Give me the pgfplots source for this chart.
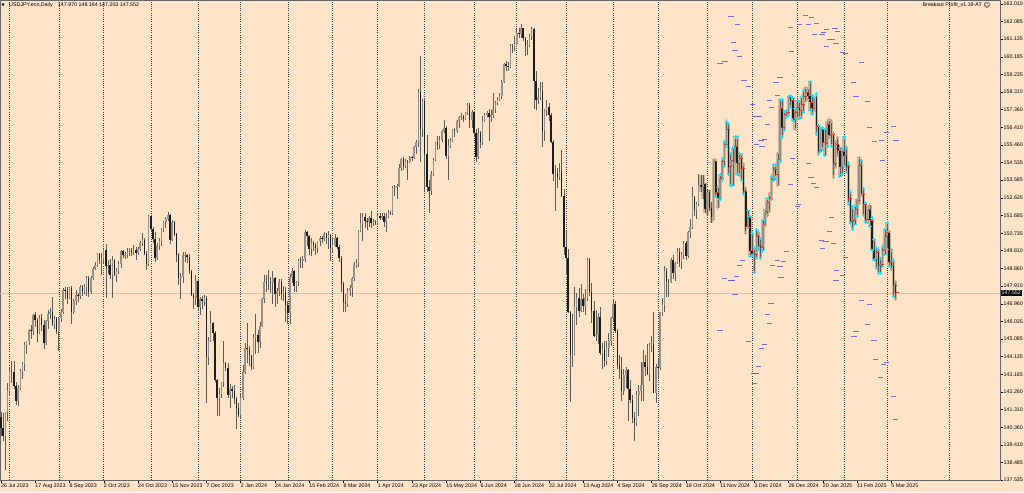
\documentclass[border=0pt]{standalone}
\usepackage{fontspec}
\setmainfont{Liberation Sans}
\newfontfamily\symfont{DejaVu Sans}
\usepackage{pgfplots}
\usepackage{pgfplotstable}
\pgfplotsset{compat=1.18}

\definecolor{bgc}{RGB}{253,228,200}
\definecolor{wickc}{RGB}{95,92,85}
\definecolor{bullc}{RGB}{150,145,136}
\definecolor{bearc}{RGB}{28,28,28}
\definecolor{shadec}{RGB}{185,170,146}
\definecolor{gridc}{RGB}{70,70,70}
\definecolor{dashc}{RGB}{95,90,200}
\definecolor{starc}{RGB}{45,215,235}
\definecolor{redc}{RGB}{200,60,50}

% USDJPY daily: bar index, open, high, low, close
\pgfplotstableread{
i o h l c
0 140.90 141.20 139.90 140.30
1 140.30 141.10 139.60 139.90
2 139.90 141.20 138.05 141.15
3 141.15 142.70 140.70 142.30
4 142.30 143.55 142.05 143.35
5 143.35 143.90 142.70 143.30
6 143.30 143.90 142.40 142.55
7 142.55 142.80 141.55 141.75
8 141.75 142.60 141.50 142.45
9 142.45 143.45 142.35 143.35
10 143.35 143.85 142.95 143.75
11 143.75 144.90 143.35 144.75
12 144.75 145.00 144.30 144.95
13 144.95 145.60 144.75 145.55
14 145.55 145.85 145.10 145.50
15 145.50 146.40 145.30 146.35
16 146.35 146.55 145.70 146.10
17 146.10 146.20 144.90 145.40
18 145.40 146.35 145.35 146.20
19 146.20 146.40 145.50 145.85
20 145.85 146.10 144.55 144.85
21 144.85 146.10 144.75 146.05
22 146.05 146.65 145.60 146.40
23 146.40 146.75 146.15 146.50
24 146.50 147.35 145.80 145.90
25 145.90 146.30 145.60 146.15
26 146.15 146.25 145.35 145.50
27 145.50 146.25 144.45 146.20
28 146.20 146.70 146.00 146.50
29 146.50 147.80 146.40 147.70
30 147.70 147.85 147.20 147.65
31 147.65 147.85 146.95 147.30
32 147.30 147.85 147.20 147.80
33 147.80 147.90 145.90 146.55
34 146.55 147.20 146.40 147.10
35 147.10 147.70 146.90 147.45
36 147.45 147.55 147.05 147.40
37 147.40 147.95 147.20 147.85
38 147.85 147.95 147.40 147.60
39 147.60 148.00 147.50 147.85
40 147.85 148.45 147.40 148.35
41 148.35 148.45 147.35 147.60
42 147.60 148.45 147.50 148.35
43 148.35 148.95 148.25 148.85
44 148.85 149.20 148.75 149.05
45 149.05 149.70 148.95 149.65
46 149.65 149.70 149.10 149.30
47 149.30 149.70 148.50 149.35
48 149.35 149.90 149.15 149.85
49 149.85 150.15 147.30 149.00
50 149.00 149.30 148.55 149.05
51 149.05 149.35 148.30 148.50
52 148.50 149.50 147.30 149.30
53 149.30 149.35 148.45 148.50
54 148.50 148.90 148.15 148.70
55 148.70 149.25 148.55 149.10
56 149.10 149.85 148.90 149.80
57 149.80 149.85 149.40 149.55
58 149.55 149.75 149.35 149.60
59 149.60 149.95 149.40 149.80
60 149.80 149.95 149.50 149.85
61 149.85 149.95 149.50 149.75
62 149.75 150.10 149.60 149.85
63 149.85 150.00 149.30 149.70
64 149.70 150.00 149.60 149.90
65 149.90 150.35 149.80 150.20
66 150.20 150.75 150.05 150.40
67 150.40 150.50 149.60 149.65
68 149.65 149.80 148.80 149.10
69 149.10 151.70 149.00 151.65
70 151.65 151.70 150.80 150.95
71 150.95 151.10 150.20 150.45
72 150.45 150.80 149.20 149.40
73 149.40 150.20 149.30 150.05
74 150.05 150.50 149.85 150.35
75 150.35 151.00 150.05 150.95
76 150.95 151.40 150.80 151.35
77 151.35 151.60 151.00 151.50
78 151.50 151.90 151.40 151.70
79 151.70 151.75 150.15 150.40
80 150.40 151.45 150.30 151.35
81 151.35 151.40 150.60 150.70
82 150.70 150.75 149.20 149.60
83 149.60 149.70 147.95 148.35
84 148.35 148.60 147.20 148.40
85 148.40 149.75 148.10 149.55
86 149.55 149.75 149.20 149.60
87 149.60 149.65 149.15 149.45
88 149.45 149.65 148.55 148.70
89 148.70 148.80 147.40 147.45
90 147.45 147.55 146.70 147.25
91 147.25 148.50 146.90 148.20
92 148.20 148.30 146.65 146.80
93 146.80 147.35 146.35 147.20
94 147.20 147.40 146.70 147.10
95 147.10 147.45 146.85 147.30
96 147.30 147.40 141.65 144.10
97 144.10 145.20 143.70 144.95
98 144.95 146.60 144.90 145.95
99 145.95 146.00 145.00 145.40
100 145.40 145.50 142.80 142.90
101 142.90 142.95 140.95 141.90
102 141.90 142.45 140.95 142.15
103 142.15 142.80 141.90 142.80
104 142.80 144.95 142.50 143.80
105 143.80 143.85 143.35 143.55
106 143.55 143.80 141.95 142.10
107 142.10 142.65 141.40 142.40
108 142.40 142.55 141.95 142.30
109 142.30 142.60 141.60 141.85
110 141.85 142.00 140.25 141.40
111 141.40 141.65 140.90 141.00
112 141.00 142.20 140.80 141.95
113 141.95 143.70 141.80 143.30
114 143.30 144.85 143.20 144.60
115 144.60 145.95 143.80 144.55
116 144.55 144.70 143.65 144.20
117 144.20 144.25 143.40 143.60
118 143.60 145.35 143.50 145.15
119 145.15 146.40 144.30 145.30
120 145.30 145.55 144.35 144.90
121 144.90 146.00 144.60 145.80
122 145.80 147.30 145.70 147.20
123 147.20 148.50 147.00 148.15
124 148.15 148.50 147.60 148.10
125 148.10 148.80 147.70 148.15
126 148.15 148.40 147.55 148.10
127 148.10 148.70 146.95 148.35
128 148.35 148.40 146.80 147.50
129 147.50 147.80 146.95 147.65
130 147.65 148.30 147.40 148.15
131 148.15 148.30 147.15 147.50
132 147.50 147.90 147.10 147.60
133 147.60 147.85 146.00 146.90
134 146.90 147.10 145.90 146.45
135 146.45 148.55 145.90 148.40
136 148.40 148.90 148.10 148.70
137 148.70 148.80 147.60 147.90
138 147.90 148.20 147.60 148.15
139 148.15 149.35 147.90 149.30
140 149.30 149.45 148.90 149.25
141 149.25 149.50 148.90 149.35
142 149.35 150.90 149.20 150.80
143 150.80 150.85 150.05 150.60
144 150.60 150.65 149.55 149.90
145 149.90 150.50 149.50 150.20
146 150.20 150.30 149.80 150.10
147 150.10 150.20 149.60 149.95
148 149.95 150.30 149.70 150.30
149 150.30 150.60 150.05 150.50
150 150.50 150.60 150.20 150.45
151 150.45 150.80 150.30 150.70
152 150.70 150.75 150.15 150.50
153 150.50 150.85 149.90 150.65
154 150.65 150.70 149.25 149.95
155 149.95 150.50 149.75 150.10
156 150.10 150.70 150.00 150.50
157 150.50 150.55 149.90 150.00
158 150.00 150.10 149.20 149.40
159 149.40 149.50 147.60 148.00
160 148.00 148.15 146.50 147.05
161 147.05 147.50 146.50 146.95
162 146.95 147.80 146.80 147.65
163 147.65 147.95 147.40 147.80
164 147.80 148.40 147.35 148.35
165 148.35 149.20 148.20 149.05
166 149.05 149.35 148.90 149.15
167 149.15 150.90 148.95 150.85
168 150.85 151.80 150.80 151.30
169 151.30 151.85 150.30 151.60
170 151.60 151.85 151.00 151.40
171 151.40 151.55 150.90 151.35
172 151.35 151.65 151.10 151.55
173 151.55 151.95 151.00 151.30
174 151.30 151.50 151.15 151.35
175 151.35 151.45 151.20 151.30
176 151.30 151.80 151.25 151.65
177 151.65 151.80 151.45 151.55
178 151.55 151.80 151.45 151.65
179 151.65 151.80 151.10 151.35
180 151.35 151.85 150.80 151.60
181 151.60 152.00 151.55 151.85
182 151.85 151.95 151.70 151.80
183 151.80 153.25 151.70 153.15
184 153.15 153.30 152.75 153.20
185 153.20 153.40 152.60 153.25
186 153.25 154.45 153.20 154.25
187 154.25 154.75 154.05 154.70
188 154.70 154.80 154.15 154.35
189 154.35 154.70 154.25 154.60
190 154.60 154.65 153.60 154.55
191 154.55 154.85 154.50 154.80
192 154.80 154.90 154.60 154.75
193 154.75 155.40 154.70 155.35
194 155.35 155.75 155.00 155.60
195 155.60 158.45 155.35 158.30
196 158.30 160.20 154.55 156.30
197 156.30 157.95 155.90 157.80
198 157.80 158.00 153.00 155.00
199 155.00 156.00 152.95 153.20
200 153.20 153.60 151.85 153.00
201 153.00 154.05 152.80 153.90
202 153.90 154.75 153.80 154.65
203 154.65 155.65 154.60 155.55
204 155.55 155.95 155.20 155.45
205 155.45 155.95 155.25 155.75
206 155.75 156.25 155.65 156.20
207 156.20 156.80 156.10 156.40
208 156.40 156.50 154.70 154.85
209 154.85 155.80 153.60 155.40
210 155.40 155.85 155.30 155.70
211 155.70 156.30 155.60 156.25
212 156.25 156.40 155.90 156.20
213 156.20 156.80 156.10 156.75
214 156.75 157.00 156.40 156.95
215 156.95 157.20 156.80 157.00
216 157.00 157.05 156.70 156.85
217 156.85 157.25 156.80 157.15
218 157.15 157.70 157.05 157.60
219 157.60 157.70 156.40 156.80
220 156.80 157.35 156.40 157.25
221 157.25 157.30 155.90 156.10
222 156.10 156.30 154.55 154.80
223 154.80 156.35 154.70 156.10
224 156.10 156.20 155.30 155.60
225 155.60 157.00 155.45 156.75
226 156.75 157.20 156.70 157.05
227 157.05 157.30 156.95 157.20
228 157.20 157.40 155.70 156.95
229 156.95 157.35 156.70 157.05
230 157.05 158.25 156.90 157.40
231 157.40 157.80 157.15 157.70
232 157.70 158.05 157.60 157.85
233 157.85 158.25 157.80 158.10
234 158.10 158.95 157.90 158.85
235 158.85 159.85 158.80 159.80
236 159.80 159.95 159.40 159.70
237 159.70 159.90 159.45 159.65
238 159.65 160.85 159.60 160.75
239 160.75 160.85 160.40 160.70
240 160.70 161.30 160.50 160.85
241 160.85 161.70 160.80 161.45
242 161.45 161.75 161.20 161.40
243 161.40 161.95 161.20 161.70
244 161.70 161.75 161.05 161.20
245 161.20 161.25 160.20 160.75
246 160.75 161.10 160.30 160.80
247 160.80 161.40 160.70 161.30
248 161.30 161.80 161.10 161.65
249 161.65 161.75 157.40 158.90
250 158.90 159.45 157.35 157.85
251 157.85 158.50 157.65 158.05
252 158.05 158.85 157.85 158.35
253 158.35 158.85 155.35 156.20
254 156.20 157.40 155.70 157.35
255 157.35 157.85 157.00 157.50
256 157.50 157.70 156.75 157.05
257 157.05 157.15 155.55 155.65
258 155.65 155.75 153.55 153.90
259 153.90 154.40 151.95 153.95
260 153.95 154.25 153.15 153.75
261 153.75 154.50 153.60 154.00
262 154.00 155.20 152.70 152.75
263 152.75 153.10 149.60 150.00
264 150.00 150.90 148.50 149.40
265 149.40 149.90 146.45 146.55
266 146.55 146.60 141.70 144.20
267 144.20 146.40 143.60 144.30
268 144.30 147.85 144.20 146.80
269 146.80 147.55 145.85 147.30
270 147.30 147.80 146.25 146.60
271 146.60 148.00 146.50 147.20
272 147.20 147.50 146.55 146.85
273 146.85 147.75 146.35 147.30
274 147.30 149.40 147.10 149.30
275 149.30 149.40 147.40 147.60
276 147.60 148.10 145.95 146.60
277 146.60 147.10 145.20 145.25
278 145.25 146.65 144.95 145.30
279 145.30 146.45 144.80 146.25
280 146.25 146.80 144.20 144.35
281 144.35 144.85 143.45 144.55
282 144.55 145.00 143.60 143.90
283 143.90 144.95 143.70 144.60
284 144.60 145.40 144.10 144.95
285 144.95 146.25 144.70 146.20
286 146.20 147.20 146.05 146.95
287 146.95 147.10 145.40 145.50
288 145.50 145.60 143.45 143.70
289 143.70 144.20 142.95 143.40
290 143.40 144.10 141.75 142.30
291 142.30 143.45 142.10 143.15
292 143.15 143.60 142.45 143.40
293 143.40 143.50 140.70 142.40
294 142.40 142.90 141.65 141.80
295 141.80 142.10 140.60 140.85
296 140.85 141.20 139.60 140.60
297 140.60 142.30 140.45 142.10
298 142.10 142.60 140.95 142.30
299 142.30 143.85 141.75 142.60
300 142.60 144.50 141.75 143.85
301 143.85 144.20 143.10 143.60
302 143.60 144.80 143.15 143.20
303 143.20 144.85 142.85 144.75
304 144.75 145.25 144.40 144.80
305 144.80 146.50 142.20 142.20
306 142.20 143.75 141.65 143.60
307 143.60 144.05 142.95 143.55
308 143.55 146.55 143.40 146.50
309 146.50 147.25 146.30 146.90
310 146.90 149.00 146.50 148.70
311 148.70 148.90 147.35 148.20
312 148.20 148.30 147.35 148.15
313 148.15 149.40 148.10 149.30
314 149.30 149.55 148.30 148.60
315 148.60 149.20 148.20 149.15
316 149.15 149.95 149.10 149.75
317 149.75 149.95 148.95 149.20
318 149.20 149.75 148.85 149.60
319 149.60 150.30 149.35 150.20
320 150.20 150.30 149.30 149.50
321 149.50 150.85 149.40 150.80
322 150.80 151.50 150.50 151.10
323 151.10 153.20 150.95 152.70
324 152.70 152.75 151.65 152.00
325 152.00 152.40 151.50 152.30
326 152.30 153.90 152.20 153.30
327 153.30 153.85 152.95 153.20
328 153.20 153.85 152.60 153.35
329 153.35 153.45 151.80 152.05
330 152.05 153.05 151.70 152.95
331 152.95 153.05 151.95 152.10
332 152.10 152.40 151.30 151.60
333 151.60 154.70 151.50 154.60
334 154.60 154.70 152.70 152.95
335 152.95 153.20 152.10 152.65
336 152.65 153.90 152.55 153.70
337 153.70 154.75 153.60 154.60
338 154.60 155.65 154.30 155.50
339 155.50 156.75 155.40 156.30
340 156.30 156.60 153.90 154.30
341 154.30 155.00 153.30 154.65
342 154.65 155.30 153.30 154.60
343 154.60 155.90 154.50 155.40
344 155.40 155.90 153.90 154.50
345 154.50 155.00 153.85 154.75
346 154.75 154.95 153.55 154.20
347 154.20 154.45 152.80 153.00
348 153.00 153.20 150.75 151.10
349 151.10 151.95 151.05 151.60
350 151.60 151.65 149.50 149.80
351 149.80 150.75 149.55 149.65
352 149.65 149.95 148.65 149.60
353 149.60 150.95 149.40 150.60
354 150.60 150.80 149.90 150.10
355 150.10 150.45 149.40 150.00
356 150.00 151.40 149.80 151.20
357 151.20 152.00 151.15 151.90
358 151.90 152.60 151.70 152.40
359 152.40 152.85 151.90 152.60
360 152.60 153.80 152.55 153.65
361 153.65 154.40 153.55 154.15
362 154.15 154.40 153.70 153.90
363 153.90 155.00 153.30 154.70
364 154.70 157.90 154.60 157.40
365 157.40 157.90 155.90 156.40
366 156.40 157.25 156.25 157.10
367 157.10 157.30 156.95 157.20
368 157.20 158.05 157.05 158.00
369 158.00 158.10 157.50 157.85
370 157.85 158.00 156.80 156.85
371 156.85 157.40 156.30 157.20
372 157.20 157.85 156.85 157.50
373 157.50 157.80 156.90 157.30
374 157.30 158.05 156.95 157.65
375 157.65 158.40 157.20 158.05
376 158.05 158.55 157.80 158.30
377 158.30 158.45 157.90 158.10
378 158.10 158.85 157.30 157.75
379 157.75 158.10 157.10 157.45
380 157.45 158.00 157.30 158.00
381 158.00 158.20 156.05 156.45
382 156.45 156.50 154.95 155.20
383 155.20 156.35 155.10 156.30
384 156.30 156.40 155.25 155.60
385 155.60 156.30 154.90 155.55
386 155.55 156.75 155.40 156.55
387 156.55 156.85 155.85 156.00
388 156.00 156.75 155.40 156.05
389 156.05 156.10 153.75 154.50
390 154.50 155.65 154.25 155.50
391 155.50 155.85 154.90 155.20
392 155.20 155.35 153.80 154.30
393 154.30 155.25 153.90 155.15
394 155.15 155.90 154.30 154.90
395 154.90 155.35 154.00 154.30
396 154.30 154.50 152.30 152.60
397 152.60 152.95 151.25 151.40
398 151.40 152.15 150.95 151.45
399 151.45 152.20 151.20 152.00
400 152.00 152.55 151.65 152.50
401 152.50 154.80 152.35 154.40
402 154.40 154.65 152.75 152.80
403 152.80 153.15 151.70 152.30
404 152.30 152.40 151.30 151.50
405 151.50 152.10 151.35 152.00
406 152.00 152.25 151.10 151.45
407 151.45 151.55 149.80 149.90
408 149.90 150.40 149.30 149.35
409 149.35 149.95 148.85 149.70
410 149.70 149.90 148.60 149.00
411 149.00 149.40 148.60 149.10
412 149.10 150.05 148.95 149.80
413 149.80 150.95 149.60 150.60
414 150.60 151.30 149.85 150.80
415 150.80 150.85 148.95 149.20
416 149.20 149.85 148.80 149.00
417 149.00 149.30 147.35 147.970
418 147.970 148.164 147.203 147.552
}\ohlc

% indicator levels (bar, price)
\pgfplotstableread{
x y
341.1 162.33
344.0 161.89
342.2 160.94
343.0 160.55
345.0 160.19
338.3 159.92
336.0 159.83
347.2 158.94
349.2 158.59
351.1 157.64
352.8 156.98
354.3 156.98
358.1 156.59
360.1 157.48
359.2 157.87
356.7 155.77
355.1 155.73
353.1 155.50
355.6 155.41
362.1 158.82
364.0 159.09
363.0 158.14
369.4 160.46
369.0 161.74
373.0 161.89
376.1 162.42
378.9 162.28
377.4 161.92
381.1 161.97
380.3 161.39
383.6 161.37
384.5 161.51
385.8 161.67
389.7 161.71
390.8 161.53
387.0 161.12
388.6 161.12
385.8 160.73
390.2 160.91
393.3 160.42
394.7 160.37
398.3 158.82
399.5 158.05
404.9 157.77
402.1 159.89
406.0 156.41
408.1 155.64
411.3 155.73
412.0 154.61
413.7 156.12
417.0 156.45
418.2 155.70
377.2 154.48
378.5 153.73
379.6 153.41
381.1 153.20
369.9 154.75
369.0 153.36
372.7 152.29
372.1 152.20
387.0 150.86
388.1 151.57
383.5 150.34
383.9 149.93
385.5 150.29
388.9 150.20
367.1 149.79
362.9 149.26
365.5 149.22
364.0 148.95
364.5 148.38
360.6 149.04
346.5 149.26
345.0 149.01
343.7 148.45
341.9 148.19
338.0 148.33
341.1 148.19
343.0 147.44
359.8 146.99
358.1 146.40
359.0 145.92
336.0 145.56
349.2 144.94
356.7 144.80
355.4 144.55
353.9 143.60
351.5 143.25
352.8 143.25
352.0 142.71
390.5 148.77
390.2 148.19
393.3 148.49
394.7 149.44
402.1 147.17
406.0 146.94
404.9 145.87
399.5 145.47
398.6 145.21
407.9 145.03
408.8 143.96
412.3 143.73
413.8 143.83
411.0 143.00
417.0 142.00
418.0 140.80
}\levels

\begin{document}
\begin{tikzpicture}
\fill[bgc] (0,-12pt) rectangle (1024pt,480pt);
\useasboundingbox (0,-12pt) rectangle (1024pt,480pt);
\begin{axis}[
  at={(0,0)}, anchor=south west,
  scale only axis, width=1000pt, height=480pt,
  xmin=-0.47, xmax=466.8,
  ymin=137.535, ymax=163.224,
  clip=false,
  axis line style={draw=gray!80!black, line width=0.6pt},
  tick align=outside, major tick length=3pt,
  tick style={black, line width=0.4pt},
  xtick pos=bottom, ytick pos=right, yticklabel pos=right,
  xtick={0,16,...,416},
  xticklabels={26 Jul 2023, 17 Aug 2023, 8 Sep 2023, 2 Oct 2023, 24 Oct 2023,
    15 Nov 2023, 7 Dec 2023, 2 Jan 2024, 24 Jan 2024, 15 Feb 2024, 8 Mar 2024,
    1 Apr 2024, 23 Apr 2024, 15 May 2024, 6 Jun 2024, 28 Jun 2024, 22 Jul 2024,
    13 Aug 2024, 4 Sep 2024, 26 Sep 2024, 18 Oct 2024, 11 Nov 2024, 3 Dec 2024,
    26 Dec 2024, 20 Jan 2025, 11 Feb 2025, 5 Mar 2025},
  ytick={163.010,162.085,161.135,160.185,159.235,158.310,157.360,156.410,
    155.460,154.535,153.585,152.635,151.685,150.735,149.810,148.860,147.910,
    146.960,146.035,145.085,144.135,143.185,142.260,141.310,140.360,139.410,
    138.485,137.535},
  y tick label style={/pgf/number format/fixed, /pgf/number format/fixed zerofill,
    /pgf/number format/precision=3, /pgf/number format/1000 sep={},
    /pgf/number format/assume math mode=true,
    anchor=west, inner sep=0pt, xshift=0.5pt,
    font=\fontsize{5.3}{6}\selectfont},
  x tick label style={anchor=north west, inner sep=0pt, yshift=-0.5pt,
    font=\fontsize{5.3}{6}\selectfont},
  extra x ticks={4,27,48,70,92,112,134,155,176,198,221,241,264,286,307,330,351,372,394,414,443},
  extra x tick labels={},
  extra x tick style={major tick length=0pt, grid=major,
    major grid style={gridc, line width=0.55pt, dash pattern=on 1pt off 1.2pt}},
]
% last price line
\addplot[gray!45, line width=0.5pt] coordinates {(-0.47,147.552) (466.8,147.552)};
% indicator shading behind candles
\addplot[draw=none, mark=none, restrict x to domain=327:418,
  error bars/.cd, y dir=plus, y explicit, error mark=none,
  error bar style={draw=shadec, opacity=0.75, line width=3.4pt}]
  table[x=i, y=l, y error expr=\thisrow{h}-\thisrow{l}] {\ohlc};
% wicks
\addplot[draw=none, mark=none,
  error bars/.cd, y dir=plus, y explicit, error mark=none,
  error bar style={draw=wickc, line width=0.6pt}]
  table[x=i, y=l, y error expr=\thisrow{h}-\thisrow{l}] {\ohlc};
% bullish bodies
\addplot[draw=none, mark=none,
  restrict expr to domain={\thisrow{c}-\thisrow{o}}{0:100},
  error bars/.cd, y dir=plus, y explicit, error mark=none,
  error bar style={draw=bullc, line width=1.5pt}]
  table[x=i, y=o, y error expr=\thisrow{c}-\thisrow{o}] {\ohlc};
% bearish bodies
\addplot[draw=none, mark=none,
  restrict expr to domain={\thisrow{o}-\thisrow{c}}{0.0001:100},
  error bars/.cd, y dir=plus, y explicit, error mark=none,
  error bar style={draw=bearc, line width=1.5pt}]
  table[x=i, y=c, y error expr=\thisrow{o}-\thisrow{c}] {\ohlc};
% indicator: level dashes
\addplot[only marks, mark=-, mark size=2.6pt, dashc, opacity=0.85,
  mark options={line width=0.9pt}] table[x=x, y=y] {\levels};
% indicator: red ticks
\addplot[only marks, mark=-, mark size=1.6pt, redc, restrict x to domain=333:418,
  mark options={line width=0.7pt, xshift=1.6pt}] table[x=i, y=c] {\ohlc};
% indicator: cyan swing markers
\addplot[only marks, mark=+, mark size=1.7pt, starc, restrict x to domain=333:418,
  mark options={line width=0.9pt}] table[x=i, y=h] {\ohlc};
\addplot[only marks, mark=+, mark size=1.7pt, starc, restrict x to domain=333:418,
  mark options={line width=0.9pt}] table[x=i, y=l] {\ohlc};
% current price box
\node[anchor=west, fill=black, text=white, inner xsep=1pt, inner ysep=0.8pt,
  font=\fontsize{5.3}{6}\selectfont, xshift=0.5pt] at (axis cs:466.8,147.552) {147.552};
\end{axis}
% top frame line
\draw[gray!80!black, line width=0.6pt] (0,480pt) -- (1000pt,480pt);
% chart header
\node[anchor=west, inner sep=0pt, font=\symfont\fontsize{4}{5}\selectfont] at (1.5pt,475pt) {▼};
\node[anchor=west, inner sep=0pt, font=\fontsize{5.3}{6}\selectfont] at (9pt,475pt)
  {USDJPY.ecn,Daily\quad 147.970 148.164 147.203 147.552};
\node[anchor=east, inner sep=0pt, font=\fontsize{5.3}{6}\selectfont] at (982pt,475pt)
  {Breakout Profit\_v1.19-AT};
\node[anchor=center, inner sep=0pt, font=\symfont\fontsize{6.5}{7}\selectfont] at (987pt,475pt) {☺};
\end{tikzpicture}
\end{document}
